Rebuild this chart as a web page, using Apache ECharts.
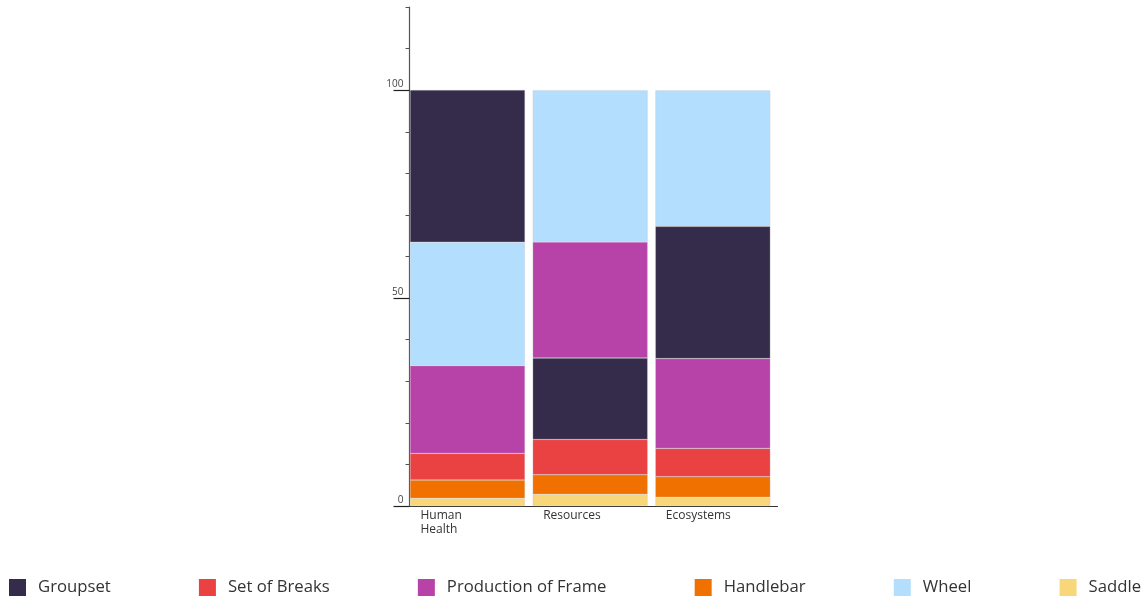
<!DOCTYPE html>
<html>
<head>
<meta charset="utf-8">
<script src="https://cdn.jsdelivr.net/npm/echarts@6/dist/echarts.min.js"></script>
<style>
  html, body { margin: 0; padding: 0; background: #fff; }
  #chart { width: 1146px; height: 601px; }
</style>
</head>
<body>
<div id="chart"></div>
<script>
var categories = ['Human\nHealth', 'Resources', 'Ecosystems'];
var seriesNames = ['Groupset', 'Set of Breaks', 'Production of Frame', 'Handlebar', 'Wheel', 'Saddle'];
var groupset = [36.6, 19.6, 31.8];
var setOfBreaks = [6.4, 8.5, 6.8];
var productionOfFrame = [21.1, 27.9, 21.6];
var handlebar = [4.4, 4.7, 4.95];
var wheel = [29.7, 36.5, 32.7];
var saddle = [1.85, 2.8, 2.1];
var yTicks = [0, 50, 100];

var values = [groupset, setOfBreaks, productionOfFrame, handlebar, wheel, saddle];
var colors = ['#352c4b', '#ea4142', '#b843a8', '#f07100', '#b3defe', '#f8d67a'];

var myChart = echarts.init(document.getElementById('chart'));

// each bar stacks its parts smallest first, so build one series per part per bar
var series = [];
categories.forEach(function (cat, c) {
    var order = seriesNames.map(function (n, i) { return i; });
    order.sort(function (a, b) { return values[a][c] - values[b][c]; });
    order.forEach(function (i) {
        var data = categories.map(function (x, k) { return k === c ? values[i][c] : '-'; });
        series.push({
            name: seriesNames[i],
            type: 'bar',
            stack: 'total',
            xAxisIndex: 0,
            yAxisIndex: 0,
            barWidth: 115,
            data: data,
            itemStyle: { color: colors[i], borderColor: 'rgba(200,200,200,0.6)', borderWidth: 0.5 }
        });
    });
});

option = {
    animation: false,
    textStyle: { fontFamily: '"Open Sans", sans-serif' },
    legend: {
        data: seriesNames,
        left: 9,
        top: 579,
        padding: 0,
        icon: 'rect',
        itemWidth: 17,
        itemHeight: 17,
        itemGap: 88.2,
        itemStyle: { borderWidth: 0 },
        textStyle: { fontSize: 16.7, color: '#333', padding: [2, 0, 0, 7], fontFamily: '"Open Sans", sans-serif' }
    },
    grid: [
        { left: 406.17, right: 371.83, top: 7, bottom: 95 },
        { left: 409.5, right: 368.5, top: 7, bottom: 95 }
    ],
    xAxis: [
        {
            type: 'category', gridIndex: 0, data: categories,
            axisLine: { show: false }, axisTick: { show: false }, axisLabel: { show: false }
        },
        {
            type: 'category', gridIndex: 1, data: categories.concat(['']),
            boundaryGap: false,
            axisLine: { show: true, lineStyle: { color: '#333', width: 1.2 } },
            axisTick: { show: false },
            axisLabel: {
                interval: 0, align: 'left', margin: 3, padding: [0, 0, 0, 11],
                fontSize: 12, lineHeight: 14, color: '#333', fontFamily: '"Open Sans", sans-serif'
            }
        }
    ],
    yAxis: [
        {
            type: 'value', gridIndex: 0, position: 'left', min: 0, max: 120, interval: 10,
            axisLine: { show: false }, axisTick: { show: false },
            axisLabel: { show: false }, splitLine: { show: false }
        },
        {
            type: 'value', gridIndex: 1, position: 'left', min: 0, max: 120, interval: 10,
            axisLine: { show: true, lineStyle: { color: '#555', width: 1.2 } },
            axisTick: { show: true, length: 4, lineStyle: { color: '#555' } },
            axisLabel: { show: false }, splitLine: { show: false }
        },
        {
            type: 'value', gridIndex: 1, position: 'left', offset: 0, min: 0, max: 120, interval: 10,
            axisLine: { show: false },
            axisTick: { show: true, length: 16, customValues: yTicks, lineStyle: { color: '#222', width: 1.2 } },
            axisLabel: {
                customValues: yTicks, margin: 6, verticalAlign: 'bottom', padding: [0, 0, 1, 0],
                fontSize: 10, color: '#444', fontFamily: '"Open Sans", sans-serif'
            },
            splitLine: { show: false }
        }
    ],
    series: series
};
myChart.setOption(option);
</script>
</body>
</html>
